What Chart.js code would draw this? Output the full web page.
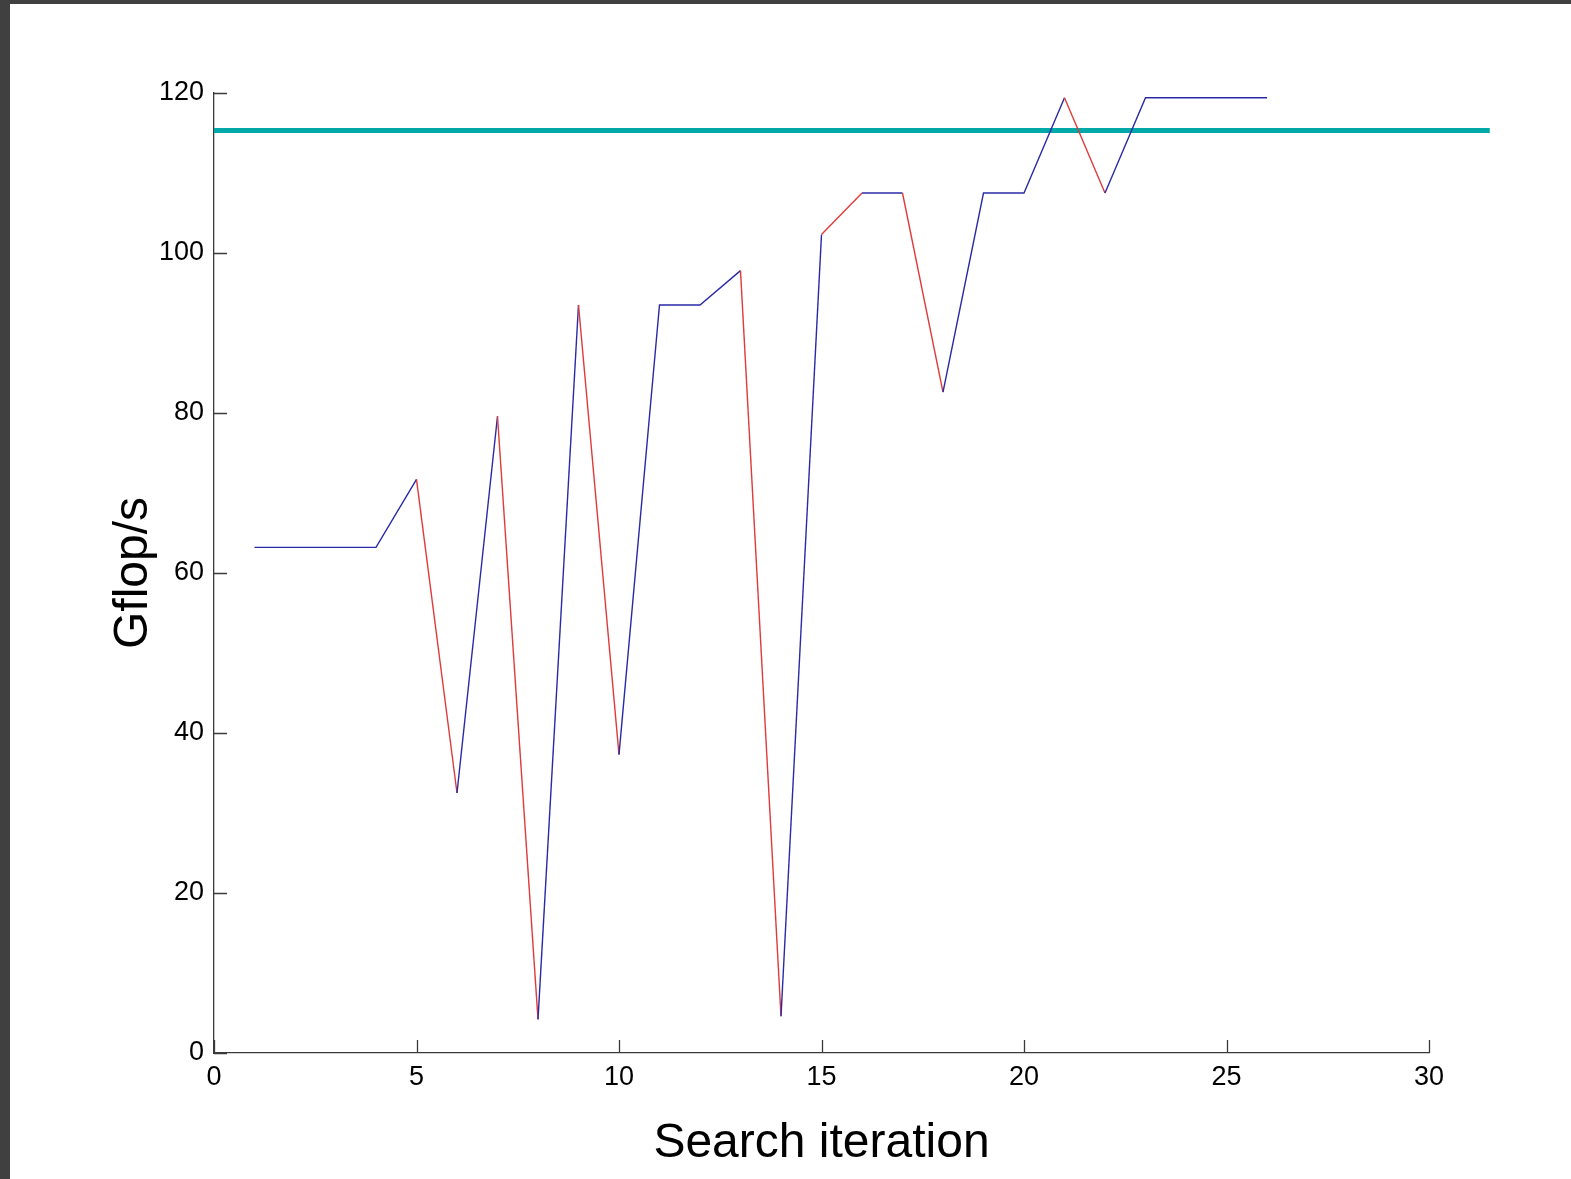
<!DOCTYPE html>
<html>
<head>
<meta charset="utf-8">
<title>Search iteration vs Gflop/s</title>
<script src="https://cdn.jsdelivr.net/npm/chart.js@4.4.1/dist/chart.umd.min.js"></script>
<style>
  html, body { margin: 0; padding: 0; background: #404040; overflow: hidden; }
  #frame { position: absolute; left: 10px; top: 4px; width: 1561px; height: 1175px; background: #fff; }
</style>
</head>
<body>
<div id="frame"><canvas id="search-chart" width="1561" height="1175"></canvas></div>
<script>
//
// Search trace - data
//
const iterations = [1, 2, 3, 4, 5, 6, 7, 8, 9, 10, 11, 12, 13,
                    14, 15, 16, 17, 18, 19, 20, 21, 22, 23, 24, 25, 26];
const gflops = [63.2, 63.2, 63.2, 63.2, 71.7, 32.5, 79.6, 4.2, 93.5, 37.3, 93.5, 93.5, 97.8,
                4.6, 102.3, 107.5, 107.5, 82.6, 107.5, 107.5, 119.4, 107.5, 119.4, 119.4, 119.4, 119.4];
// iterations where the step to the next point is drawn in red
const redSteps = [5, 7, 9, 13, 15, 17, 21];

// reference level
const peakX = [0, 31.5];
const peakY = [115.3, 115.3];

const xTicks = [0, 5, 10, 15, 20, 25, 30];
const yTicks = [0, 20, 40, 60, 80, 100, 120];

const FONT = "'Liberation Sans', Arial, sans-serif";

// MATLAB style tick marks pointing into the plot
const inwardTicks = {
  id: 'inwardTicks',
  afterDraw(chart) {
    const ctx = chart.ctx;
    const x = chart.scales.x, y = chart.scales.y;
    const len = 13;
    ctx.save();
    ctx.strokeStyle = '#3a3a3a';
    ctx.lineWidth = 1.3;
    ctx.beginPath();
    xTicks.forEach(v => {
      const px = Math.round(x.getPixelForValue(v)) + 0.5;
      ctx.moveTo(px, y.bottom);
      ctx.lineTo(px, y.bottom - len);
    });
    yTicks.forEach(v => {
      const py = Math.round(y.getPixelForValue(v)) + 0.5;
      ctx.moveTo(x.left, py);
      ctx.lineTo(x.left + len, py);
    });
    ctx.stroke();
    ctx.restore();
  }
};

const data = {
  datasets: [{
    label: 'Gflop/s',
    data: iterations.map((it, i) => ({ x: it, y: gflops[i] })),
    borderWidth: 1.4,
    pointRadius: 0,
    tension: 0,
    segment: {
      borderColor: c => redSteps.includes(iterations[c.p0DataIndex]) ? '#e03a3a' : '#2a2aa8'
    }
  }, {
    label: 'Peak',
    data: peakX.map((px, i) => ({ x: px, y: peakY[i] })),
    borderColor: '#00a8a8',
    borderWidth: 5,
    pointRadius: 0,
    clip: false
  }]
};

const config = {
  type: 'line',
  data: data,
  plugins: [inwardTicks],
  options: {
    responsive: false,
    animation: false,
    devicePixelRatio: 1,
    layout: { padding: { top: 89, right: 142, left: 0, bottom: 0 } },
    plugins: {
      legend: { display: false },
      tooltip: { enabled: false }
    },
    scales: {
      x: {
        type: 'linear',
        min: 0,
        max: 30,
        afterFit: s => { s.height = 126; },
        afterBuildTicks: s => { s.ticks = xTicks.map(v => ({ value: v })); },
        grid: { drawOnChartArea: false, drawTicks: false },
        border: { color: '#3a3a3a', width: 1.3 },
        ticks: { color: '#000', padding: 8, maxRotation: 0, font: { family: FONT, size: 27 } },
        title: {
          display: true,
          text: 'Search iteration',
          color: '#000',
          padding: { top: 0, bottom: 6 },
          font: { family: FONT, size: 48 }
        }
      },
      y: {
        type: 'linear',
        min: 0,
        max: 120,
        afterFit: s => { s.width = 204; },
        afterBuildTicks: s => { s.ticks = yTicks.map(v => ({ value: v })); },
        grid: { drawOnChartArea: false, drawTicks: false },
        border: { color: '#3a3a3a', width: 1.3 },
        ticks: { color: '#000', padding: 10, font: { family: FONT, size: 27 } },
        title: {
          display: true,
          text: 'Gflop/s',
          color: '#000',
          padding: { top: 95, bottom: 0 },
          font: { family: FONT, size: 48 }
        }
      }
    }
  }
};

const searchChart = new Chart(document.getElementById('search-chart'), config);
</script>
</body>
</html>
